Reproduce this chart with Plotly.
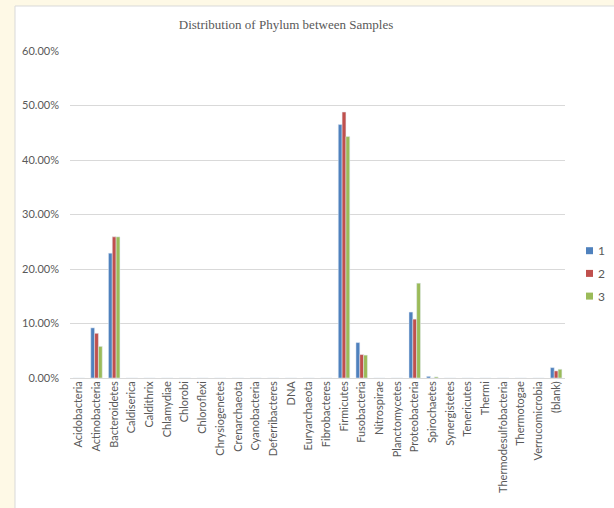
import plotly.graph_objects as go

# Phylum categories along the x axis
phyla = [
    "Acidobacteria", "Actinobacteria", "Bacteroidetes", "Caldiserica", "Caldithrix",
    "Chlamydiae", "Chlorobi", "Chloroflexi", "Chrysiogenetes", "Crenarchaeota",
    "Cyanobacteria", "Deferribacteres", "DNA", "Euryarchaeota", "Fibrobacteres",
    "Firmicutes", "Fusobacteria", "Nitrospirae", "Planctomycetes", "Proteobacteria",
    "Spirochaetes", "Synergistetes", "Tenericutes", "Thermi", "Thermodesulfobacteria",
    "Thermotogae", "Verrucomicrobia", "(blank)",
]

# Relative abundance per sample (fractions)
sample_1 = [0, 0.092, 0.229, 0, 0, 0, 0, 0, 0, 0, 0, 0, 0, 0, 0,
            0.465, 0.065, 0, 0, 0.121, 0.003, 0, 0, 0, 0, 0, 0, 0.019]
sample_2 = [0, 0.082, 0.259, 0, 0, 0, 0, 0, 0, 0, 0, 0, 0, 0, 0,
            0.488, 0.043, 0, 0, 0.108, 0, 0, 0, 0, 0, 0, 0, 0.013]
sample_3 = [0, 0.058, 0.259, 0, 0, 0, 0, 0, 0, 0, 0, 0, 0, 0, 0,
            0.443, 0.042, 0, 0, 0.174, 0.002, 0, 0, 0, 0, 0, 0, 0.016]

series_names = ["1", "2", "3"]
series_values = [sample_1, sample_2, sample_3]
colors = ["#4F81BD", "#C0504D", "#9BBB59"]

TEXT = "#595959"
W, H = 614, 508
L, R, T, B = 70, 49, 51, 130

fig = go.Figure()
for name, vals, col in zip(series_names, series_values, colors):
    fig.add_trace(go.Bar(x=phyla, y=vals, name=name, marker_color=col))

pw, ph = W - L - R, H - T - B
def px_x(p):
    return (p - L) / pw
def px_y(p):
    return (H - B - p) / ph

# White chart area with a light border over the cream page
fig.add_shape(
    type="rect", xref="paper", yref="paper", layer="below",
    x0=px_x(15), x1=px_x(W + 5), y0=px_y(H + 5), y1=px_y(6),
    fillcolor="white", line=dict(color="#D9D9D9", width=1),
)

# Legend on the right: small square key and series label
for i, (name, col) in enumerate(zip(series_names, colors)):
    cy = 250.7 + i * 22.7
    fig.add_shape(
        type="rect", xref="paper", yref="paper",
        x0=px_x(586), x1=px_x(593), y0=px_y(cy + 3.5), y1=px_y(cy - 3.5),
        fillcolor=col, line=dict(width=0),
    )
    fig.add_annotation(
        text=name, xref="paper", yref="paper", x=px_x(596), y=px_y(cy),
        xanchor="left", yanchor="middle", showarrow=False,
        font=dict(family="Lato", size=12, color=TEXT),
    )

fig.update_layout(
    width=W, height=H,
    margin=dict(l=L, r=R, t=T, b=B),
    paper_bgcolor="#FEF9E6",
    plot_bgcolor="rgba(0,0,0,0)",
    showlegend=False,
    bargap=0.35, bargroupgap=0.0, barmode="group",
    title=dict(
        text="Distribution of Phylum between Samples",
        font=dict(family="Liberation Serif", size=13, color=TEXT),
        x=286 / W, xref="container", xanchor="center",
        y=1 - 24 / H, yref="container", yanchor="middle",
    ),
    font=dict(family="Lato", size=11, color=TEXT),
    xaxis=dict(
        tickangle=-90, showgrid=False, showline=False, ticks="",
        tickfont=dict(family="Lato", size=11, color=TEXT),
    ),
    yaxis=dict(
        range=[0, 0.6], dtick=0.1, tickformat=".2%",
        showgrid=True, gridcolor="#D9D9D9", gridwidth=1,
        zeroline=True, zerolinecolor="#D9D9D9", zerolinewidth=1,
        showline=False, ticks="", ticklabelstandoff=10,
        tickfont=dict(family="Lato", size=11, color=TEXT),
    ),
)

fig.write_html("out.html")
